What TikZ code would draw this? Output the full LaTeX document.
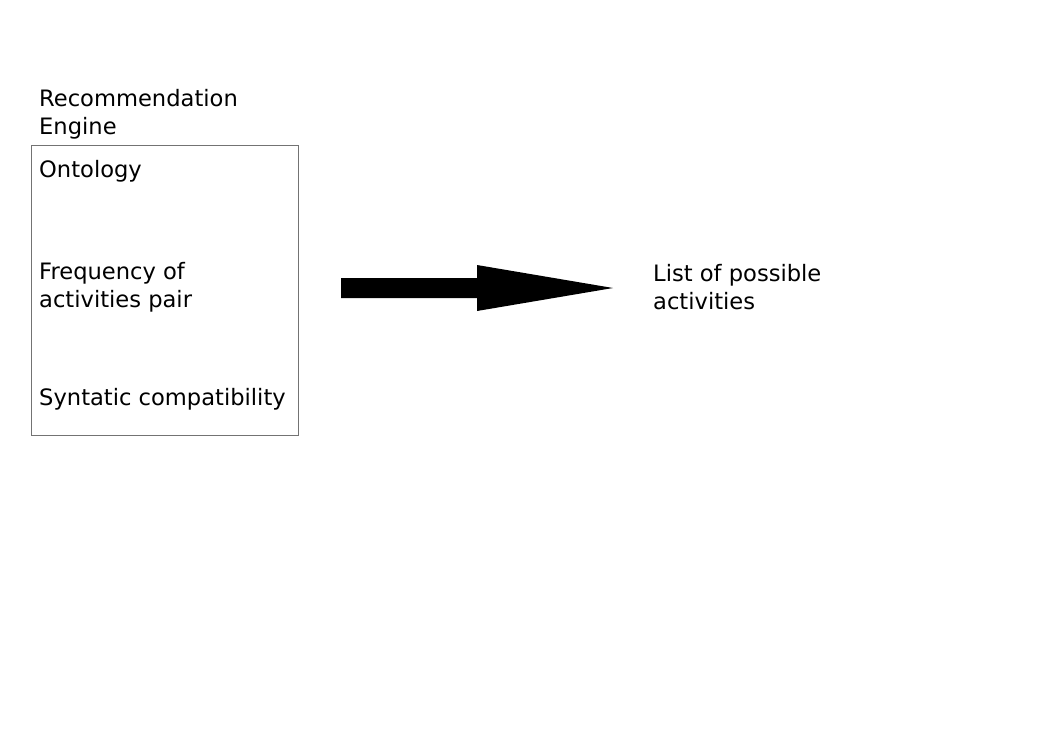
\documentclass[tikz,border=0pt]{standalone}
\usepackage{fontspec}
\setmainfont{DejaVu Sans}
\usetikzlibrary{calc}
\begin{document}
\begin{tikzpicture}[x=1pt,y=-1pt,
  lbl/.style={anchor=base west,inner sep=0pt,align=left,font=\fontsize{22.6}{28}\selectfont},
  frame/.style={draw=black!55,line width=0.9pt}]
\useasboundingbox (0,0) rectangle (1053,745);
\node[frame,minimum width=267pt,minimum height=290pt,anchor=north west,inner sep=0pt] (box) at (31,145) {};
\node[lbl] (title1) at (39,106.7) {Recommendation};
\node[lbl] (title2) at (39,134.7) {Engine};
\node[lbl] (onto) at (39,177.5) {Ontology};
\node[lbl] (freq1) at (39,279) {Frequency of};
\node[lbl] (freq2) at (39,307) {activities pair};
\node[lbl] (synt) at (39,405.5) {Syntatic compatibility};
\node[lbl] (list1) at (653,281) {List of possible};
\node[lbl] (list2) at (653,309) {activities};
\coordinate (tail) at (341,288);
\coordinate (tip) at (613,288);
\fill[black] ($(tail)+(0,-10)$) -- (477,278) -- (477,265) -- (tip) -- (477,311) -- (477,298) -- ($(tail)+(0,10)$) -- cycle;
\end{tikzpicture}
\end{document}
